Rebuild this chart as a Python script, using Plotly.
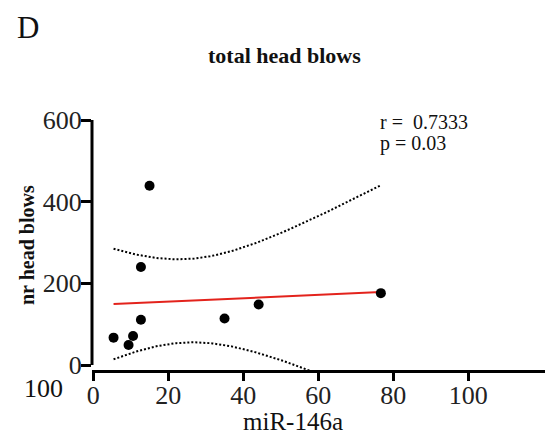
import numpy as np
import plotly.graph_objects as go

# ---- data ----
mir146a = [5.4, 9.4, 10.6, 12.7, 12.7, 15.0, 35.0, 44.1, 76.7]
head_blows = [67, 49, 71, 111, 240, 439, 114, 148, 176]
x_ticks = [0, 20, 40, 60, 80, 100]
y_ticks = [0, 200, 400, 600]
r_text = "r =  0.7333"
p_text = "p = 0.03"

# ---- linear regression with 95% confidence band ----
x = np.array(mir146a, dtype=float)
y = np.array(head_blows, dtype=float)
n = len(x)
slope, intercept = np.polyfit(x, y, 1)
resid = y - (slope * x + intercept)
s = np.sqrt(np.sum(resid ** 2) / (n - 2))
sxx = np.sum((x - x.mean()) ** 2)
t_crit = 2.3646  # t(0.975, df=7)
xf = np.linspace(x.min(), x.max(), 120)
yf = slope * xf + intercept
half = t_crit * s * np.sqrt(1.0 / n + (xf - x.mean()) ** 2 / sxx)

OFF = 8  # page body margin
W, H = 553 - OFF, 438 - OFF
L, R, T, B = 92 - OFF, 1, 120 - OFF, 68
FONT = "Liberation Serif"


def px(xp):
    return (xp - OFF - L) / (W - L - R)


def py(yp):
    return (H - B - (yp - OFF)) / (H - T - B)


fig = go.Figure()
fig.add_trace(go.Scatter(x=xf, y=yf + half, mode="lines",
                         line=dict(color="black", width=2, dash="2px,2px"),
                         hoverinfo="skip"))
fig.add_trace(go.Scatter(x=xf, y=yf - half, mode="lines",
                         line=dict(color="black", width=2, dash="2px,2px"),
                         hoverinfo="skip"))
fig.add_trace(go.Scatter(x=[x.min(), x.max()],
                         y=[slope * x.min() + intercept, slope * x.max() + intercept],
                         mode="lines", line=dict(color="#e3231c", width=2)))
fig.add_trace(go.Scatter(x=mir146a, y=head_blows, mode="markers",
                         marker=dict(color="black", size=10)))

x_end = 122.2
fig.update_xaxes(range=[-0.35, 122.35],
                 tickvals=x_ticks + [x_end],
                 ticktext=[str(v) for v in x_ticks] + [""],
                 showline=True, linecolor="black", linewidth=3,
                 ticks="outside", ticklen=8, tickwidth=3, tickcolor="black",
                 ticklabelstandoff=-8,
                 showgrid=False, zeroline=False,
                 tickfont=dict(family=FONT, size=26, color="#222"))
fig.update_yaxes(range=[-12.2, 600],
                 tickvals=y_ticks,
                 showline=False,
                 ticks="outside", ticklen=10, tickwidth=3, tickcolor="black",
                 ticklabelstandoff=-6,
                 showgrid=False, zeroline=False,
                 tickfont=dict(family=FONT, size=26, color="#222"))

# y axis line from 0 to 600 only (offset axes style)
fig.add_shape(type="line", xref="x domain", yref="y", x0=0, x1=0, y0=0, y1=600,
              line=dict(color="black", width=3))

ann = [
    dict(text="D", x=px(28), y=py(28), font=dict(size=31)),
    dict(text="<b>total head blows</b>", x=px(284), y=py(55), font=dict(size=22)),
    dict(text="miR-146a", x=px(293), y=py(421), font=dict(size=25)),
    dict(text="<b>nr head blows</b>", x=px(27), y=py(245), font=dict(size=20),
         textangle=-90),
    dict(text="100", x=px(43), y=py(388), font=dict(size=26)),
    dict(text=r_text, x=px(378), y=py(122), font=dict(size=20), xanchor="left"),
    dict(text=p_text, x=px(378), y=py(143), font=dict(size=20), xanchor="left"),
]
for a in ann:
    a.setdefault("xanchor", "center")
    a["font"]["family"] = FONT
    a["font"]["color"] = "#111"
    fig.add_annotation(xref="paper", yref="paper", showarrow=False,
                       yanchor="middle", **a)

fig.update_layout(width=W, height=H, margin=dict(l=L, r=R, t=T, b=B),
                  plot_bgcolor="white", paper_bgcolor="white",
                  showlegend=False)
fig.write_html("out.html")
